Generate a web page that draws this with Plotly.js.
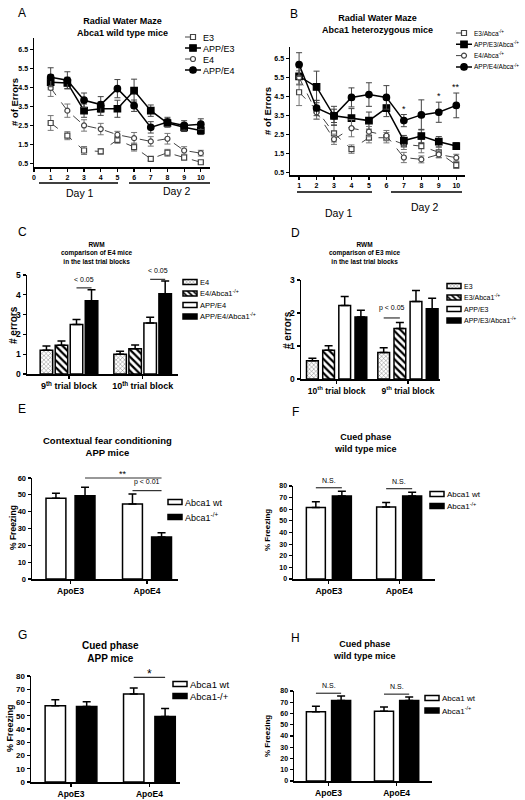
<!DOCTYPE html>
<html><head><meta charset="utf-8">
<script src="https://cdn.plot.ly/plotly-3.0.1.min.js"></script>
<style>body{margin:0;background:#fff}#chart{width:525px;height:800px}</style>
</head><body><div id="chart"></div><script>
// ================= DATA =================
const trialBlocks = [1,2,3,4,5,6,7,8,9,10];
// Panel A – Abca1 wild type mice
const aE3       = [2.62,1.95,1.17,1.12,1.73,1.35,0.73,1.05,0.80,0.55];
const aE3Err    = [0.39,0.21,0.21,0.14,0.18,0.21,0.09,0.18,0.14,0.09];
const aAppE3    = [4.77,4.73,3.27,3.37,3.37,4.33,3.27,2.62,2.39,2.23];
const aAppE3Err = [0.40,0.30,0.35,0.35,0.45,0.60,0.30,0.22,0.22,0.22];
const aE4       = [4.47,3.27,2.49,2.30,2.00,1.82,1.65,1.79,1.17,1.03];
const aE4Err    = [0.45,0.35,0.30,0.30,0.18,0.30,0.25,0.28,0.20,0.15];
const aAppE4    = [5.03,4.87,3.82,3.59,4.43,3.53,2.39,2.67,2.49,2.56];
const aAppE4Err = [0.50,0.45,0.38,0.42,0.48,0.30,0.30,0.25,0.25,0.28];
const aNames = ['E3','APP/E3','E4','APP/E4'];
// Panel B – Abca1 heterozygous mice
const bE3       = [4.72,3.80,2.56,1.73,2.33,2.33,1.98,1.89,1.56,0.89];
const bE3Err    = [0.70,0.50,0.45,0.22,0.27,0.27,0.27,0.35,0.27,0.18];
const bAppE3    = [5.56,5.00,3.48,3.36,3.23,3.89,2.18,2.42,2.12,1.89];
const bAppE3Err = [0.45,0.83,0.50,0.50,0.45,0.45,0.27,0.35,0.27,0.18];
const bE4       = [5.50,3.66,2.25,2.83,2.65,2.44,1.29,1.19,1.45,1.28];
const bE4Err    = [0.35,0.35,0.27,0.45,0.27,0.27,0.27,0.18,0.18,0.18];
const bAppE4    = [6.18,3.89,3.48,4.45,4.60,4.45,3.23,3.53,3.67,4.03];
const bAppE4Err = [0.62,0.40,0.35,0.50,0.62,0.62,0.32,0.79,0.53,0.65];
const bNames = ['E3/Abca<sup>-/+</sup>','APP/E3/Abca<sup>-/+</sup>','E4/Abca<sup>-/+</sup>','APP/E4/Abca<sup>-/+</sup>'];
const bStarBlocks = [7,9,10];
const bStarText   = ['*','*','**'];
// Panel C – E4 mice, last trial blocks
const cCats = ['9<sup>th</sup> trial block','10<sup>th</sup> trial block'];
const cE4         = [1.20,1.00]; const cE4Err         = [0.22,0.15];
const cE4Abca     = [1.45,1.27]; const cE4AbcaErr     = [0.22,0.20];
const cAppE4      = [2.50,2.58]; const cAppE4Err      = [0.25,0.28];
const cAppE4Abca  = [3.70,4.05]; const cAppE4AbcaErr  = [0.55,0.65];
const cNames = ['E4','E4/Abca1<sup>-/+</sup>','APP/E4','APP/E4/Abca1<sup>-/+</sup>'];
const cSigText = ['< 0.05','< 0.05'];
// Panel D – E3 mice, last trial blocks
const dCats = ['10<sup>th</sup> trial block','9<sup>th</sup> trial block'];
const dE3         = [0.55,0.80]; const dE3Err         = [0.08,0.15];
const dE3Abca     = [0.87,1.53]; const dE3AbcaErr     = [0.14,0.18];
const dAppE3      = [2.23,2.35]; const dAppE3Err      = [0.27,0.33];
const dAppE3Abca  = [1.88,2.13]; const dAppE3AbcaErr  = [0.20,0.32];
const dNames = ['E3','E3/Abca1<sup>-/+</sup>','APP/E3','APP/E3/Abca1<sup>-/+</sup>'];
const dSigText = 'p < 0.05';
// Panels E–H – % freezing
const apoCats = ['ApoE3','ApoE4'];
const eWt  = [48.0,44.5]; const eWtErr  = [3.0,6.0];
const eHet = [49.5,25.0]; const eHetErr = [5.0,2.5];
const fWt  = [61.5,62.0]; const fWtErr  = [5.0,3.7];
const fHet = [71.5,71.5]; const fHetErr = [4.0,3.2];
const gWt  = [57.5,66.5]; const gWtErr  = [4.5,4.5];
const gHet = [57.0,49.5]; const gHetErr = [3.5,6.0];
const hWt  = [61.5,62.0]; const hWtErr  = [5.0,3.7];
const hHet = [71.5,71.5]; const hHetErr = [4.0,3.2];
const freezeNames  = ['Abca1 wt','Abca1<sup>-/+</sup>'];
const freezeNamesG = ['Abca1 wt','Abca1-/+'];

// ================= LAYOUT HELPERS =================
const W=525, H=800;
const FONT='Liberation Sans, Arial, Helvetica, sans-serif';
const px = x => x/W, py = y => 1 - y/H;
const sfx = n => n>1 ? String(n) : '';

const layout = {
  width:W, height:H, margin:{l:0,r:0,t:0,b:0},
  paper_bgcolor:'#fff', plot_bgcolor:'rgba(0,0,0,0)',
  showlegend:true, barmode:'overlay',
  font:{family:FONT,color:'#000'},
  annotations:[], shapes:[]
};
const traces = [];

function mkAxes(n, box, xr, yr, xo, yo){
  const base = {showline:true,linewidth:1.5,linecolor:'#000',ticks:'outside',ticklen:3,tickwidth:1.2,
    tickcolor:'#000',showgrid:false,zeroline:false,fixedrange:true};
  layout['xaxis'+sfx(n)] = Object.assign({}, base, {domain:[px(box.l),px(box.r)], range:xr, anchor:'y'+sfx(n)}, xo||{});
  layout['yaxis'+sfx(n)] = Object.assign({}, base, {domain:[py(box.b),py(box.t)], range:yr, anchor:'x'+sfx(n)}, yo||{});
}
const tf = s => ({family:FONT,size:s,weight:'bold',color:'#000'});
function toPaperY(n, v){
  const ax = layout['yaxis'+sfx(n)];
  return ax.domain[0] + (v-ax.range[0])/(ax.range[1]-ax.range[0])*(ax.domain[1]-ax.domain[0]);
}
function ann(x,y,text,size,opts){
  layout.annotations.push(Object.assign({xref:'paper',yref:'paper',x:px(x),y:py(y),text,showarrow:false,
    font:{family:FONT,size,color:'#000'},xanchor:'center',yanchor:'middle'},opts||{}));
}
let legCount = 0;
function newLegend(textX, yc, size){
  legCount++;
  const key = 'legend'+sfx(legCount);
  layout[key] = {x:px(textX-40), y:py(yc), xanchor:'left', yanchor:'middle', bgcolor:'rgba(0,0,0,0)',
    borderwidth:0, font:{family:FONT,size,color:'#000'}, itemclick:false, itemdoubleclick:false, tracegroupgap:0};
  return key;
}
function lineTrace(n, name, y, err, st, legKey){
  traces.push({type:'scatter', mode:'lines+markers', x:trialBlocks, y, name,
    xaxis:'x'+sfx(n), yaxis:'y'+sfx(n), legend:legKey, cliponaxis:false,
    line:{color:st.color, width:st.lw, dash:st.dash},
    marker:{symbol:st.sym, size:st.ms, color:st.fill, line:{color:st.color,width:1.2}},
    error_y:{type:'data', array:err, visible:true, color:st.ecolor, thickness:1, width:3}});
}
function barTrace(n, name, cats, y, err, st, legKey, center, width){
  traces.push({type:'bar', x:cats, y, name, xaxis:'x'+sfx(n), yaxis:'y'+sfx(n), legend:legKey,
    offset:center-width/2, width,
    marker:{color:st.fill, line:{color:'#000',width:1.5}, pattern:st.pattern},
    error_y:{type:'data', array:err, arrayminus:err.map(()=>0), symmetric:false, visible:true,
      color:'#000', thickness:1.5, width:4}});
}
// bracket between bar (g0,k0) and (g1,k1), drawn above all bars in the span
function bracket(n, series, centers, g0,k0,g1,k1, pad, text, fsize, yshift){
  const x0 = g0+centers[k0], x1 = g1+centers[k1];
  let top = -Infinity;
  series.forEach((s,k)=>s.v.forEach((v,g)=>{const p=g+centers[k]; if(p>=x0-1e-9&&p<=x1+1e-9) top=Math.max(top,v+s.e[g]);}));
  const yp = toPaperY(n, top+pad);
  layout.shapes.push({type:'line', xref:'x'+sfx(n), yref:'paper', x0, x1, y0:yp, y1:yp, line:{color:'#333',width:1.2}});
  layout.annotations.push({xref:'x'+sfx(n), yref:'paper', x:(x0+x1)/2, y:yp, yshift, text, showarrow:false,
    xanchor:'center', yanchor:'bottom', font:{family:FONT,size:fsize,color:'#000'}});
}

// ================= STYLES =================
const stOpenSq  = {color:'#444', fill:'#fff', lw:1, dash:'dash', sym:'square', ms:5, ecolor:'#777'};
const stFillSq  = {color:'#000', fill:'#000', lw:1.5, dash:'solid', sym:'square', ms:6.5, ecolor:'#444'};
const stOpenCi  = {color:'#444', fill:'#fff', lw:1, dash:'dash', sym:'circle', ms:5, ecolor:'#777'};
const stFillCi  = {color:'#000', fill:'#000', lw:1.5, dash:'solid', sym:'circle', ms:6.5, ecolor:'#444'};
const stFine  = {fill:'#fff', pattern:{shape:'x', size:3, solidity:0.25, fgcolor:'#666', bgcolor:'#fff'}};
const stStripe= {fill:'#fff', pattern:{shape:'\\', size:5, solidity:0.45, fgcolor:'#000', bgcolor:'#fff'}};
const stWhite = {fill:'#fff'};
const stBlack = {fill:'#000'};

// ================= PANEL A =================
mkAxes(1, {l:34,r:210,t:38,b:167}, [0,10.55], [0.3,7.1],
  {tickvals:[0,1,2,3,4,5,6,7,8,9,10], tickfont:tf(7)},
  {tickvals:[0.5,1.5,2.5,3.5,4.5,5.5,6.5], ticktext:['0.5','1.5','2.5','3.5','4.5','5.5','6.5'], tickfont:tf(7)});
[[aE3,aE3Err,stOpenSq],[aAppE3,aAppE3Err,stFillSq],[aE4,aE4Err,stOpenCi],[aAppE4,aAppE4Err,stFillCi]].forEach((s,i)=>{
  lineTrace(1, aNames[i], s[0], s[1], s[2], newLegend(203, 37+i*11, 9));
});
ann(22,13,'A',12);
ann(122,27,'<b>Radial Water Maze<br>Abca1 wild type mice</b>',9);
ann(15,102,'<b># of Errors</b>',9.5,{textangle:-90});
layout.shapes.push({type:'line',xref:'paper',yref:'paper',x0:px(39),x1:px(118),y0:py(183),y1:py(183),line:{color:'#000',width:1.5}});
layout.shapes.push({type:'line',xref:'paper',yref:'paper',x0:px(129),x1:px(210),y0:py(183),y1:py(183),line:{color:'#000',width:1.5}});
ann(80,193,'Day 1',10.5); ann(177,191,'Day 2',10.5);

// ================= PANEL B =================
mkAxes(2, {l:290,r:465,t:47,b:175}, [0.48,10.5], [0.37,7.1],
  {tickvals:[1,2,3,4,5,6,7,8,9,10], tickfont:tf(7)},
  {tickvals:[0.5,1.5,2.5,3.5,4.5,5.5,6.5], ticktext:['0.5','1.5','2.5','3.5','4.5','5.5','6.5'], tickfont:tf(7)});
[[bE3,bE3Err,stOpenSq],[bAppE3,bAppE3Err,stFillSq],[bE4,bE4Err,stOpenCi],[bAppE4,bAppE4Err,stFillCi]].forEach((s,i)=>{
  lineTrace(2, bNames[i], s[0], s[1], s[2], newLegend(474, 33+i*11.3, 6.5));
});
bStarBlocks.forEach((blk,i)=>{
  const j = trialBlocks.indexOf(blk);
  layout.annotations.push({xref:'x2',yref:'y2',x:blk,y:bAppE4[j]+bAppE4Err[j],yshift:-1,text:bStarText[i],showarrow:false,
    xanchor:'center',yanchor:'bottom',font:{family:FONT,size:9,color:'#000'}});
});
ann(294,14,'B',12);
ann(377,24,'<b>Radial Water Maze<br>Abca1 heterozygous mice</b>',9);
ann(267,111,'<b># of Errors</b>',9.5,{textangle:-90});
layout.shapes.push({type:'line',xref:'paper',yref:'paper',x0:px(297),x1:px(372),y0:py(192),y1:py(192),line:{color:'#000',width:1.5}});
layout.shapes.push({type:'line',xref:'paper',yref:'paper',x0:px(391),x1:px(462),y0:py(192),y1:py(192),line:{color:'#000',width:1.5}});
ann(339,213,'Day 1',10.5); ann(425,207,'Day 2',10.5);

// ================= PANEL C =================
const cCenters = [-0.306,-0.102,0.102,0.306], cW = 0.17;
mkAxes(3, {l:27,r:178,t:275,b:374}, [-0.57,1.48], [0,5],
  {type:'category', tickfont:tf(9)},
  {tickvals:[0,1,2,3,4,5], tickfont:tf(8.5)});
const cSeries = [{v:cE4,e:cE4Err,st:stFine},{v:cE4Abca,e:cE4AbcaErr,st:stStripe},{v:cAppE4,e:cAppE4Err,st:stWhite},{v:cAppE4Abca,e:cAppE4AbcaErr,st:stBlack}];
cSeries.forEach((s,k)=>barTrace(3, cNames[k], cCats, s.v, s.e, s.st, newLegend(200, 282+k*11.5, 7.5), cCenters[k], cW));
bracket(3, cSeries, cCenters, 0,2,0,3, 0.1, cSigText[0], 7, 3);
bracket(3, cSeries, cCenters, 1,2,1,3, 0.08, cSigText[1], 7, 3);
ann(22,232,'C',12);
ann(97,253,'<b>RWM<br>comparison of E4 mice<br>in the last trial blocks</b>',6.5);
ann(13,325,'<b># errors</b>',10,{textangle:-90});

// ================= PANEL D =================
const dCenters = [-0.34,-0.113,0.113,0.34], dW = 0.165;
mkAxes(4, {l:301,r:440,t:280,b:379}, [-0.5,1.45], [0,3],
  {type:'category', tickfont:tf(8.5)},
  {tickvals:[0,1,2,3], tickfont:tf(8.5)});
const dSeries = [{v:dE3,e:dE3Err,st:stFine},{v:dE3Abca,e:dE3AbcaErr,st:stStripe},{v:dAppE3,e:dAppE3Err,st:stWhite},{v:dAppE3Abca,e:dAppE3AbcaErr,st:stBlack}];
dSeries.forEach((s,k)=>barTrace(4, dNames[k], dCats, s.v, s.e, s.st, newLegend(464, 286+k*11.5, 7), dCenters[k], dW));
bracket(4, dSeries, dCenters, 1,0,1,1, 0.14, dSigText, 7, 4);
ann(295,233,'D',12);
ann(365,253,'<b>RWM<br>comparison of E3 mice<br>in the last trial blocks</b>',6.5);
ann(287,330,'<b># errors</b>',10,{textangle:-90});

// ================= PANEL E =================
const eCenters = [-0.19,0.19], eW = 0.26;
mkAxes(5, {l:32,r:178,t:478,b:579}, [-0.503,1.405], [0,60],
  {type:'category', tickfont:tf(8.5)},
  {tickvals:[0,10,20,30,40,50,60], tickfont:tf(7.5)});
const eSeries = [{v:eWt,e:eWtErr,st:stWhite},{v:eHet,e:eHetErr,st:stBlack}];
eSeries.forEach((s,k)=>barTrace(5, freezeNames[k], apoCats, s.v, s.e, s.st, newLegend(185, 502+k*15, 9), eCenters[k], eW));
bracket(5, eSeries, eCenters, 0,1,1,1, 5.5, '**', 9, -3);
bracket(5, eSeries, eCenters, 1,0,1,1, 2.0, 'p < 0.01', 7, 3);
ann(22,409,'E',12);
ann(107,446,'<b>Contextual fear conditioning<br>APP mice</b>',9.5);
ann(13,528,'<b>% Freezing</b>',8.5,{textangle:-90});

// ================= PANEL F =================
const fCenters = [-0.185,0.185], fW = 0.27;
mkAxes(6, {l:293,r:435,t:486,b:579}, [-0.51,1.51], [0,80],
  {type:'category', tickfont:tf(8.5)},
  {tickvals:[0,10,20,30,40,50,60,70,80], tickfont:tf(7)});
const fSeries = [{v:fWt,e:fWtErr,st:stWhite},{v:fHet,e:fHetErr,st:stBlack}];
fSeries.forEach((s,k)=>barTrace(6, freezeNames[k], apoCats, s.v, s.e, s.st, newLegend(447, 494+k*12, 8), fCenters[k], fW));
bracket(6, fSeries, fCenters, 0,0,0,1, 3, 'N.S.', 7, 2);
bracket(6, fSeries, fCenters, 1,0,1,1, 3, 'N.S.', 7, 2);
ann(295,412,'F',12);
ann(365,443,'<b>Cued phase<br>wild type mice</b>',9);
ann(267,530,'<b>% Freezing</b>',8,{textangle:-90});

// ================= PANEL G =================
const gCenters = [-0.2,0.2], gW = 0.26;
mkAxes(7, {l:31,r:180,t:676,b:782}, [-0.51,1.39], [0,80],
  {type:'category', tickfont:tf(8.5)},
  {tickvals:[0,10,20,30,40,50,60,70,80], tickfont:tf(8)});
const gSeries = [{v:gWt,e:gWtErr,st:stWhite},{v:gHet,e:gHetErr,st:stBlack}];
gSeries.forEach((s,k)=>barTrace(7, freezeNamesG[k], apoCats, s.v, s.e, s.st, newLegend(190, 684+k*12, 9.5), gCenters[k], gW));
bracket(7, gSeries, gCenters, 1,0,1,1, 8, '*', 12, -6);
ann(22,635,'G',12);
ann(110,652,'<b>Cued phase<br>APP mice</b>',10);
ann(10,728,'<b>% Freezing</b>',9,{textangle:-90});

// ================= PANEL H =================
const hCenters = [-0.185,0.185], hW = 0.28;
mkAxes(8, {l:294,r:432,t:691,b:781}, [-0.507,1.52], [0,80],
  {type:'category', tickfont:tf(8.5)},
  {tickvals:[0,10,20,30,40,50,60,70,80], tickfont:tf(7)});
const hSeries = [{v:hWt,e:hWtErr,st:stWhite},{v:hHet,e:hHetErr,st:stBlack}];
hSeries.forEach((s,k)=>barTrace(8, freezeNames[k], apoCats, s.v, s.e, s.st, newLegend(442, 698+k*12.5, 8), hCenters[k], hW));
bracket(8, hSeries, hCenters, 0,0,0,1, 2.5, 'N.S.', 7, 2);
bracket(8, hSeries, hCenters, 1,0,1,1, 2.5, 'N.S.', 7, 2);
ann(295,638,'H',12);
ann(364,650,'<b>Cued phase<br>wild type mice</b>',9);
ann(267,736,'<b>% Freezing</b>',8,{textangle:-90});

// compact legend symbols (small swatches right next to the legend text, as in the reference)
function compactLegends(){
  document.querySelectorAll('.legendpoints path').forEach(p=>{
    const d = p.getAttribute('d') || '';
    if (/H-6V-6/.test(d) || p.classList.contains('legendbar') || p.classList.contains('legendundefined')) {
      p.setAttribute('d','M7,2.5H-7V-2.5H7Z'); p.setAttribute('transform','translate(30,0)');
    }
  });
  document.querySelectorAll('.legendlines path').forEach(p=>p.setAttribute('d','M22,0h16'));
  document.querySelectorAll('.legendpoints path.scatterpts').forEach(p=>p.setAttribute('transform','translate(30,0)'));
}
const gdiv = document.getElementById('chart');
Plotly.newPlot(gdiv, traces, layout, {staticPlot:true, displayModeBar:false});
compactLegends();
if (gdiv.on) gdiv.on('plotly_afterplot', compactLegends);
requestAnimationFrame(compactLegends);
setTimeout(compactLegends, 0);
setTimeout(compactLegends, 100);
</script></body></html>
